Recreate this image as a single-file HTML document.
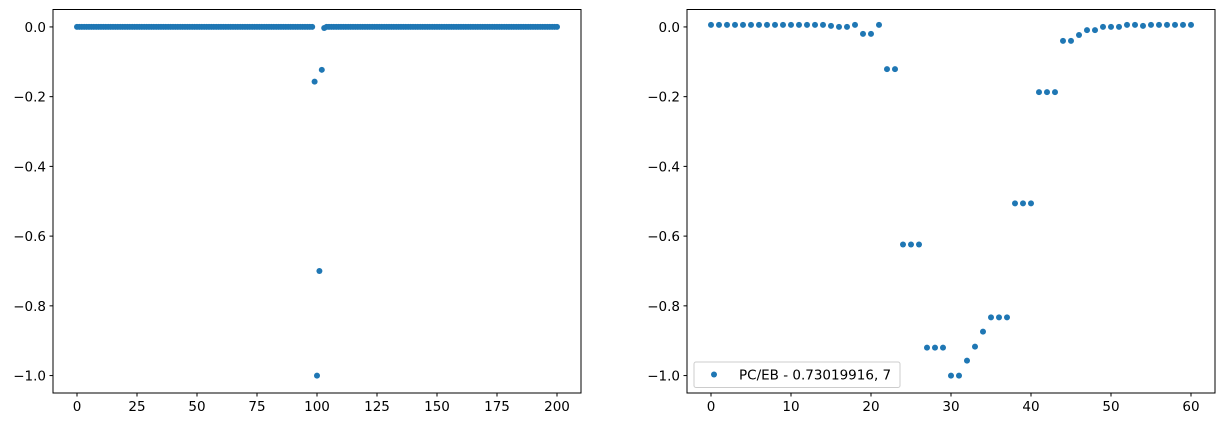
<!DOCTYPE html>
<html><head><meta charset="utf-8"><style>
body{margin:0;background:#fff;width:1225px;height:428px;overflow:hidden}
svg{display:block}
text{font-family:"DejaVu Sans","Liberation Sans",sans-serif;font-size:13.5px;fill:#000}
</style></head><body>
<svg id="chart" width="1225" height="428" viewBox="0 0 1225 428" xmlns="http://www.w3.org/2000/svg"></svg>
<script>
// Left panel data
const leftX = [];
const leftY = [];
for (let i = 0; i <= 200; i++) leftX.push(i);
const leftSpikeIdx = [99, 100, 101, 102, 103];
const leftSpikeVal = [-0.157, -1.0, -0.70, -0.123, -0.003];
for (let i = 0; i <= 200; i++) leftY.push(0);
leftSpikeIdx.forEach((k, j) => { leftY[k] = leftSpikeVal[j]; });
const leftXTicks = [0, 25, 50, 75, 100, 125, 150, 175, 200];
// Right panel data
const rightY = [0.006,0.006,0.006,0.006,0.006,0.006,0.006,0.006,0.006,0.006,0.006,0.006,0.006,0.006,0.006,0.003,0,0,0.006,-0.02,-0.02,0.006,-0.121,-0.121,-0.624,-0.624,-0.624,-0.920,-0.920,-0.920,-1.0,-1.0,-0.957,-0.917,-0.874,-0.833,-0.833,-0.833,-0.506,-0.506,-0.506,-0.187,-0.187,-0.187,-0.040,-0.040,-0.023,-0.009,-0.009,0,0,0,0.006,0.006,0.003,0.006,0.006,0.006,0.006,0.006,0.006];
const rightXTicks = [0, 10, 20, 30, 40, 50, 60];
const yTicks = [0, -0.2, -0.4, -0.6, -0.8, -1.0];
const legendLabel = "PC/EB - 0.73019916, 7";

const NS = "http://www.w3.org/2000/svg";
const svg = document.getElementById('chart');
function mk(tag, attrs, parent) {
  const e = document.createElementNS(NS, tag);
  for (const k in attrs) e.setAttribute(k, attrs[k]);
  (parent || svg).appendChild(e);
  return e;
}
const plotTop = 9.5, H = 383.5, W = 528;
function yScale(v) { return plotTop + H * (0.05 - v) / 1.1; }

function panel(name, left, xmin, xmax, xs, ys, xticks, legend) {
  const g = mk('g', {});
  
  
  const xS = v => left + W * (v - xmin) / (xmax - xmin);
  const pts = mk('g', {fill: '#1f77b4'}, g);
  
  
  xs.forEach((x, i) => {
    const c = mk('circle', {cx: xS(x), cy: yScale(ys[i]), r: 3}, pts);
    
    
  });
  const fr = mk('rect', {x: left, y: plotTop, width: W, height: H, fill: 'none', stroke: '#000', 'stroke-width': 1}, g);
  
  
  xticks.forEach(t => {
    const x = xS(t);
    mk('line', {x1: x, x2: x, y1: plotTop + H, y2: plotTop + H + 3.5, stroke: '#000'}, g);
    const tx = mk('text', {x: x, y: plotTop + H + 18, 'text-anchor': 'middle'}, g);
    
    
    tx.textContent = String(t);
  });
  yTicks.forEach(t => {
    const y = yScale(t);
    mk('line', {x1: left - 3.5, x2: left, y1: y, y2: y, stroke: '#000'}, g);
    const tx = mk('text', {x: left - 7, y: y + 5, 'text-anchor': 'end'}, g);
    
    
    tx.textContent = t.toFixed(1).replace('-', '\u2212');
  });
  if (legend) {
    const lg = mk('g', {}, g);
    
    
    mk('rect', {x: left + 7, y: 362, width: 206, height: 25.5, rx: 2, fill: '#fff', 'fill-opacity': 0.8, stroke: '#ccc'}, lg);
    mk('circle', {cx: left + 27, cy: 374.5, r: 3, fill: '#1f77b4'}, lg);
    const lt = mk('text', {x: left + 52, y: 379.5}, lg);
    
    
    lt.textContent = legend;
  }
}
panel('left-panel', 53, -10, 210, leftX, leftY, leftXTicks, null);
const rightX = rightY.map((_, i) => i);
panel('right-panel', 687, -3, 63, rightX, rightY, rightXTicks, legendLabel);
</script>
</body></html>
